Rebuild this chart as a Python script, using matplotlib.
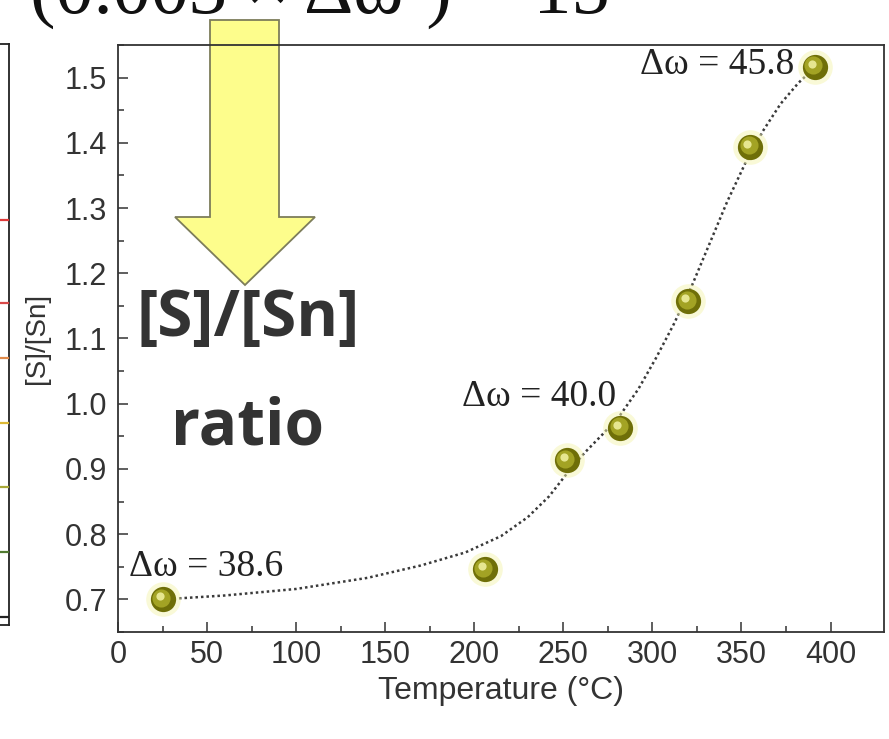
import matplotlib
matplotlib.use("Agg")
import matplotlib.pyplot as plt
from matplotlib.patches import Polygon
from matplotlib.lines import Line2D
from matplotlib.transforms import offset_copy

# measured [S]/[Sn] ratio vs temperature
temps = [25, 206, 252, 282, 320, 355, 391]
ratio = [0.700, 0.746, 0.913, 0.963, 1.157, 1.394, 1.517]

# dotted trend curve
fit_t = [25, 60, 100, 140, 170, 195, 215, 230, 242, 252, 262, 272, 282, 292, 302,
         312, 322, 332, 342, 352, 362, 372, 382, 391]
fit_r = [0.700, 0.706, 0.716, 0.733, 0.752, 0.772, 0.797, 0.826, 0.858, 0.893, 0.925,
         0.953, 0.983, 1.022, 1.070, 1.122, 1.180, 1.245, 1.310, 1.368, 1.418, 1.460,
         1.492, 1.515]

# raman shift labels
ann_text = ["Δω = 38.6", "Δω = 40.0", "Δω = 45.8"]
ann_t = [6, 193, 293]
ann_r = [0.750, 1.011, 1.520]

xticks = [0, 50, 100, 150, 200, 250, 300, 350, 400]
yticks = [0.7, 0.8, 0.9, 1.0, 1.1, 1.2, 1.3, 1.4, 1.5]

# tick colours of the neighbouring panel (cut off at the left edge)
side_colors = ["#e03a3a", "#d84848", "#e08a4a", "#dcb834", "#a8a838", "#507a30", "#222222"]
side_y = [220, 303, 358, 423, 487, 552, 617]

W, H = 889, 739
fig = plt.figure(figsize=(W / 100, H / 100), dpi=100)
fig.patch.set_facecolor("white")

def fx(px):
    return px / W

def fy(py):
    return 1 - py / H

ax = fig.add_axes([fx(118), fy(632), fx(884) - fx(118), fy(45) - fy(632)])
ax.set_facecolor("none")
ax.set_zorder(2)

ink = "#333333"
ax.plot(fit_t, fit_r, linestyle=(0, (1, 1.2)), color="#3a3a3a", linewidth=1.8, zorder=3)

# sphere-like markers: halo, body, lighter face, highlight
ax.scatter(temps, ratio, s=620, color="#f4f4b0", alpha=0.5, linewidths=0, zorder=4)
ax.scatter(temps, ratio, s=330, color="#6f6f08", linewidths=0, zorder=5)
shift = offset_copy(ax.transData, fig=fig, x=-1.5, y=1.5, units="dots")
ax.scatter(temps, ratio, s=170, color="#a3a324", linewidths=0, zorder=6, transform=shift)
shift2 = offset_copy(ax.transData, fig=fig, x=-3, y=3, units="dots")
ax.scatter(temps, ratio, s=35, color="#e6e690", linewidths=0, zorder=7, transform=shift2)

for txt, t, r in zip(ann_text, ann_t, ann_r):
    ax.text(t, r, txt, fontsize=27, family=["Liberation Serif", "DejaVu Serif"],
            color="#222222", ha="left", va="center", zorder=8)

ax.set_xlim(0, 430)
ax.set_ylim(0.652, 1.55)
ax.set_xticks(xticks)
ax.set_yticks(yticks)
ax.set_xticks([25 + 50 * i for i in range(8)], minor=True)
ax.set_yticks([0.65 + 0.1 * i for i in range(10)], minor=True)
ax.tick_params(which="both", direction="in", colors=ink, width=1.1,
               top=False, right=False, labelsize=22)
ax.tick_params(axis="x", pad=6)
ax.tick_params(axis="y", pad=8)
ax.tick_params(which="major", length=7)
ax.tick_params(which="minor", length=4)
ax.set_xticklabels([str(v) for v in xticks])
ax.set_yticklabels([f"{v:.1f}" for v in yticks])
for lab in ax.get_xticklabels() + ax.get_yticklabels():
    lab.set_family("Liberation Sans")
    lab.set_color(ink)
for sp in ax.spines.values():
    sp.set_color(ink)
    sp.set_linewidth(1.3)

ax.set_xlabel("Temperature (°C)", fontsize=23, family="Liberation Sans", color=ink, labelpad=4)
ax.set_ylabel("[S]/[Sn]", fontsize=20, family="Liberation Sans", color=ink, labelpad=10)

# big yellow arrow behind the axes frame
arrow_px = [(210, 20), (279, 20), (279, 217), (315, 217), (245, 285), (175, 217), (210, 217)]
arrow = Polygon([(fx(x), fy(y)) for x, y in arrow_px], closed=True, transform=fig.transFigure,
                facecolor="#fdfd8c", edgecolor="#7d7d5a", linewidth=1.3, zorder=1)
fig.patches.append(arrow)

fig.text(fx(248), fy(320), "[S]/[Sn]", fontsize=46, fontweight="bold", family="Open Sans",
         color="#333333", ha="center", va="center", zorder=3)
fig.text(fx(248), fy(428), "ratio", fontsize=46, fontweight="bold", family="Open Sans",
         color="#333333", ha="center", va="center", zorder=3)

# equation cut off at the top edge
fig.text(fx(30), fy(13), "(0.003 × Δω²) − 15", fontsize=55,
         family=["Liberation Serif", "DejaVu Serif"], color="#111111",
         ha="left", va="baseline")

# edge of the neighbouring panel
fig.add_artist(Line2D([fx(9), fx(9)], [fy(44), fy(625)], transform=fig.transFigure,
                      color="#222222", linewidth=1.3))
fig.add_artist(Line2D([fx(0), fx(9)], [fy(44), fy(44)], transform=fig.transFigure,
                      color="#222222", linewidth=1.3))
fig.add_artist(Line2D([fx(0), fx(9)], [fy(625), fy(625)], transform=fig.transFigure,
                      color="#222222", linewidth=1.3))
for c, y in zip(side_colors, side_y):
    fig.add_artist(Line2D([fx(0), fx(8)], [fy(y), fy(y)], transform=fig.transFigure,
                          color=c, linewidth=1.6))

fig.savefig("out.png", dpi=100)
